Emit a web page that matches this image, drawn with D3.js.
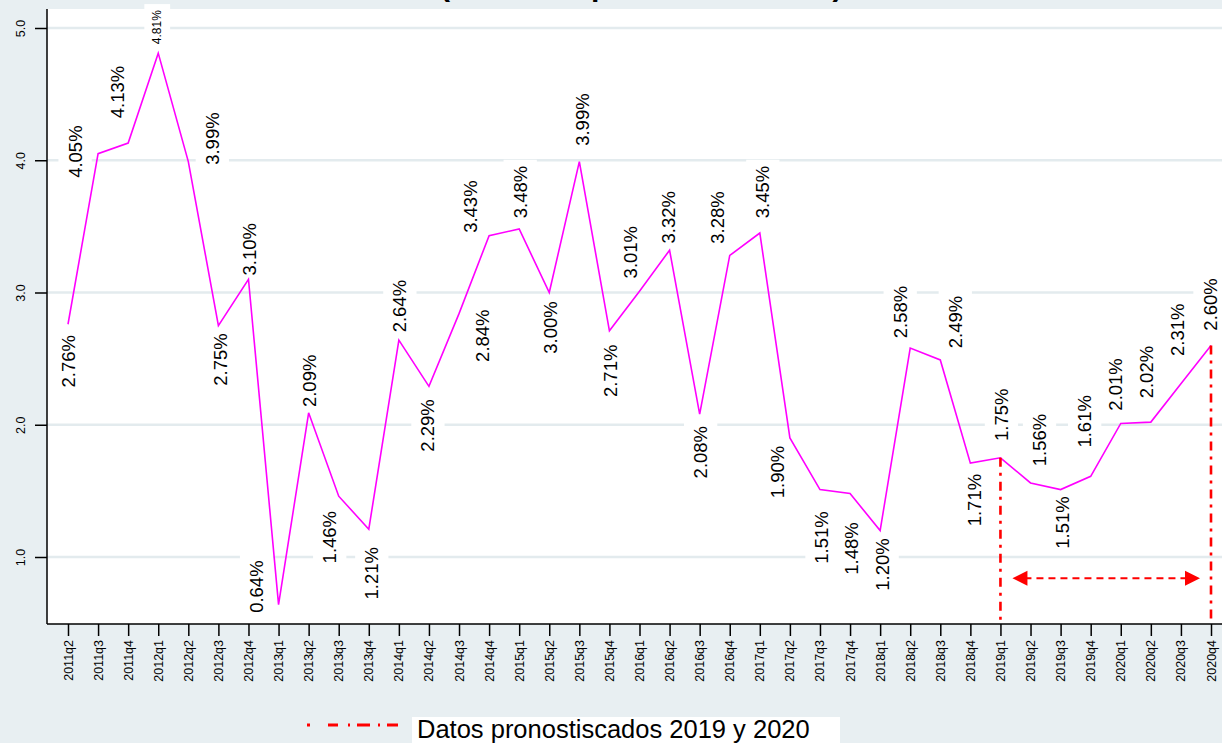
<!DOCTYPE html>
<html>
<head>
<meta charset="utf-8">
<script src="https://cdn.jsdelivr.net/npm/d3@7"></script>
<style>
  html, body { margin: 0; padding: 0; background: #e8eff2; overflow: hidden; }
  svg { display: block; font-family: "Liberation Sans", Arial, sans-serif; }
</style>
</head>
<body>
<svg id="chart" width="1222" height="743"></svg>
<script>
// quarterly growth, % (2019-2020 are forecasts)
const quarters = [
  '2011q2', '2011q3', '2011q4',
  '2012q1', '2012q2', '2012q3', '2012q4',
  '2013q1', '2013q2', '2013q3', '2013q4',
  '2014q1', '2014q2', '2014q3', '2014q4',
  '2015q1', '2015q2', '2015q3', '2015q4',
  '2016q1', '2016q2', '2016q3', '2016q4',
  '2017q1', '2017q2', '2017q3', '2017q4',
  '2018q1', '2018q2', '2018q3', '2018q4',
  '2019q1', '2019q2', '2019q3', '2019q4',
  '2020q1', '2020q2', '2020q3', '2020q4'
];
const growth = [
  2.76, 4.05, 4.13,
  4.81, 3.99, 2.75, 3.10,
  0.64, 2.09, 1.46, 1.21,
  2.64, 2.29, 2.84, 3.43,
  3.48, 3.00, 3.99, 2.71,
  3.01, 3.32, 2.08, 3.28,
  3.45, 1.90, 1.51, 1.48,
  1.20, 2.58, 2.49, 1.71,
  1.75, 1.56, 1.51, 1.61,
  2.01, 2.02, 2.31, 2.60
];
const yTicks = [1, 2, 3, 4, 5];
const forecastFrom = '2019q1';
const forecastTo = '2020q4';
const arrowLevel = 0.84;
const titleText = '(variación porcentual anual)';
const legendText = 'Datos pronostiscados 2019 y 2020';

// where each marker label sits relative to its point (label centre, px)
const labelNudge = [
  [0, 37], [-23, -2], [-11, -51],
  [-1, -26], [24, -23], [2, 34], [1, -30],
  [-22, -18], [1, -32], [-9, 41], [3, 44],
  [1, -34], [-1, 39], [23, 22], [-19, -29],
  [1, -37], [1, 35], [3, -42], [1, 40],
  [-9, -39], [-1, -33], [1, 38], [-12, -38],
  [3, -41], [-12, 34], [2, 48], [1, 55],
  [2, 34], [-10, -36], [15, -38], [4, 37],
  [1, -43], [9, -43], [2, 33], [-6, -55],
  [-5, -39], [-4, -50], [-3, -54], [-1, -41]
];
const smallLabels = new Set(['2012q1']);

const plot = {left: 47, top: 9, right: 1240, bottom: 624};
const colors = {bg: '#e8eff2', grid: '#e3ebee', line: '#ff00ff', red: '#ff0000'};

const data = quarters.map((q, i) => ({q, v: growth[i], nudge: labelNudge[i]}));

const svg = d3.select('#chart');

const x = d3.scalePoint()
  .domain(quarters)
  .range([plot.left + 21, 1211]);

const y = d3.scaleLinear()
  .domain([1, 5])
  .range([557, 28]);

// background + plot region
svg.append('rect')
  .attr('width', 1222).attr('height', 743)
  .attr('fill', colors.bg);

svg.append('rect')
  .attr('x', plot.left).attr('y', plot.top)
  .attr('width', plot.right - plot.left)
  .attr('height', plot.bottom - plot.top)
  .attr('fill', '#fff');

// title (cropped at the top edge, as in the source image)
svg.append('text')
  .attr('x', 440).attr('y', -4)
  .attr('font-size', 30.2)
  .attr('font-weight', 'bold')
  .attr('fill', '#000')
  .text(titleText);

// gridlines
svg.append('g')
  .selectAll('line')
  .data(yTicks)
  .join('line')
    .attr('x1', plot.left).attr('x2', plot.right)
    .attr('y1', d => y(d)).attr('y2', d => y(d))
    .attr('stroke', colors.grid)
    .attr('stroke-width', 2.5);

// label boxes, then the line, then label text
const fmt = d3.format('.2f');
const labelSize = d => smallLabels.has(d.q) ? 12 : 18.5;
const place = d => `translate(${x(d.q) + d.nudge[0]},${y(d.v) + d.nudge[1]}) rotate(-90)`;

const boxes = svg.append('g')
  .selectAll('rect')
  .data(data)
  .join('rect')
    .attr('transform', place)
    .attr('fill', '#fff');

const lineGen = d3.line()
  .x(d => x(d.q))
  .y(d => y(d.v));

svg.append('path')
  .datum(data)
  .attr('d', lineGen)
  .attr('fill', 'none')
  .attr('stroke', colors.line)
  .attr('stroke-width', 1.6);

const texts = svg.append('g')
  .selectAll('text')
  .data(data)
  .join('text')
    .attr('transform', place)
    .attr('text-anchor', 'middle')
    .attr('dominant-baseline', 'central')
    .attr('font-size', labelSize)
    .attr('fill', '#000')
    .text(d => `${fmt(d.v)}%`);

texts.each(function(d) {
  d.len = this.getComputedTextLength();
});
boxes
  .attr('x', d => -d.len / 2 - 6)
  .attr('width', d => d.len + 12)
  .attr('y', d => -labelSize(d) * 0.575 - 6)
  .attr('height', d => labelSize(d) * 1.15 + 12);

// forecast markers
const red = svg.append('g');
[forecastFrom, forecastTo].forEach(q => {
  const v = growth[quarters.indexOf(q)];
  red.append('line')
    .attr('x1', x(q)).attr('x2', x(q))
    .attr('y1', y(v)).attr('y2', plot.bottom)
    .attr('stroke', colors.red)
    .attr('stroke-width', 2.6)
    .attr('stroke-dasharray', '9,6,3,6');
});

const ax0 = x(forecastFrom) + 12;
const ax1 = x(forecastTo) - 11;
const ay = y(arrowLevel);
red.append('line')
  .attr('x1', ax0 + 12).attr('x2', ax1 - 12)
  .attr('y1', ay).attr('y2', ay)
  .attr('stroke', colors.red)
  .attr('stroke-width', 2)
  .attr('stroke-dasharray', '7,5');
red.append('path')
  .attr('d', `M${ax0},${ay}L${ax0 + 15},${ay - 7.5}L${ax0 + 15},${ay + 7.5}Z`)
  .attr('fill', colors.red);
red.append('path')
  .attr('d', `M${ax1},${ay}L${ax1 - 15},${ay - 7.5}L${ax1 - 15},${ay + 7.5}Z`)
  .attr('fill', colors.red);

// axes
const xAxis = svg.append('g')
  .attr('transform', `translate(0,${plot.bottom})`)
  .call(d3.axisBottom(x).tickSize(12).tickSizeOuter(0));
xAxis.select('.domain').remove();
xAxis.append('line')
  .attr('x1', plot.left).attr('x2', 1222)
  .attr('stroke', '#000').attr('stroke-width', 1.5);
xAxis.selectAll('.tick line').attr('stroke', '#000').attr('stroke-width', 1.5);
xAxis.selectAll('.tick text')
  .attr('font-family', '"Liberation Sans", Arial, sans-serif')
  .attr('font-size', 12.5)
  .attr('fill', '#000')
  .attr('text-anchor', 'end')
  .attr('dominant-baseline', 'central')
  .attr('dy', null)
  .attr('y', 0)
  .attr('transform', 'translate(0,16) rotate(-90)');

const yAxis = svg.append('g')
  .attr('transform', `translate(${plot.left},0)`)
  .call(d3.axisLeft(y).tickValues(yTicks).tickFormat(d3.format('.1f')).tickSize(12).tickSizeOuter(0));
yAxis.select('.domain').remove();
yAxis.append('line')
  .attr('y1', plot.top).attr('y2', plot.bottom)
  .attr('stroke', '#000').attr('stroke-width', 1.5);
yAxis.selectAll('.tick line').attr('stroke', '#000').attr('stroke-width', 1.5);
yAxis.selectAll('.tick text')
  .attr('font-family', '"Liberation Sans", Arial, sans-serif')
  .attr('font-size', 12.5)
  .attr('fill', '#000')
  .attr('text-anchor', 'middle')
  .attr('dominant-baseline', 'central')
  .attr('dy', null)
  .attr('x', 0)
  .attr('transform', 'translate(-26,0) rotate(-90)');

// legend
const legend = svg.append('g');
legend.append('line')
  .attr('x1', 307).attr('x2', 398)
  .attr('y1', 725).attr('y2', 725)
  .attr('stroke', colors.red)
  .attr('stroke-width', 3)
  .attr('stroke-dasharray', '3,18,10,10,2,7,13,8,2,7,11');
legend.append('rect')
  .attr('x', 412).attr('y', 717)
  .attr('width', 428).attr('height', 30)
  .attr('fill', '#fff');
legend.append('text')
  .attr('x', 417).attr('y', 737.5)
  .attr('font-size', 25.5)
  .attr('fill', '#000')
  .text(legendText);
</script>
</body>
</html>
